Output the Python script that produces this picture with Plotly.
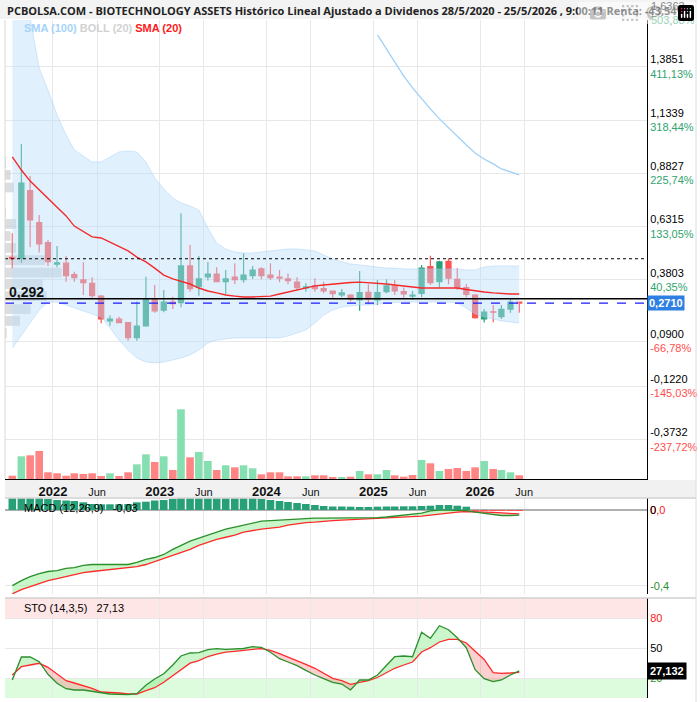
import numpy as np
import pandas as pd
import plotly.graph_objects as go

# ---------------- data (monthly candles, Aug 2021 - May 2026) ----------------
month_starts = pd.date_range("2021-08-01", periods=58, freq="MS")
dates = month_starts + pd.Timedelta(days=14)

open_ = [0.486, 0.482, 0.801, 0.650, 0.556, 0.455, 0.459, 0.405, 0.380, 0.364,
         0.304, 0.187, 0.195, 0.179, 0.108, 0.164, 0.292, 0.238, 0.276, 0.273,
         0.446, 0.348, 0.395, 0.408, 0.372, 0.394, 0.381, 0.400, 0.432, 0.403,
         0.394, 0.385, 0.370, 0.342, 0.352, 0.339, 0.328, 0.309, 0.309, 0.286,
         0.322, 0.286, 0.325, 0.352, 0.325, 0.304, 0.317, 0.443, 0.372, 0.468,
         0.383, 0.344, 0.309, 0.197, 0.230, 0.207, 0.243, 0.276]
high_ = [0.600, 1.021, 0.870, 0.686, 0.568, 0.540, 0.493, 0.419, 0.463, 0.393,
         0.309, 0.212, 0.207, 0.181, 0.278, 0.395, 0.356, 0.333, 0.301, 0.694,
         0.545, 0.493, 0.465, 0.440, 0.427, 0.459, 0.506, 0.446, 0.440, 0.459,
         0.427, 0.411, 0.393, 0.364, 0.388, 0.372, 0.329, 0.337, 0.312, 0.422,
         0.360, 0.380, 0.383, 0.380, 0.344, 0.328, 0.451, 0.494, 0.471, 0.482,
         0.435, 0.361, 0.314, 0.243, 0.262, 0.262, 0.289, 0.278]
low_ = [0.435, 0.461, 0.534, 0.509, 0.446, 0.440, 0.372, 0.372, 0.309, 0.294,
        0.176, 0.164, 0.176, 0.094, 0.094, 0.160, 0.226, 0.228, 0.243, 0.251,
        0.325, 0.306, 0.377, 0.369, 0.314, 0.361, 0.367, 0.385, 0.383, 0.380,
        0.369, 0.360, 0.331, 0.325, 0.325, 0.317, 0.290, 0.298, 0.278, 0.235,
        0.265, 0.262, 0.317, 0.309, 0.294, 0.286, 0.298, 0.356, 0.344, 0.360,
        0.333, 0.298, 0.197, 0.179, 0.181, 0.196, 0.226, 0.226]
close_ = [0.480, 0.836, 0.663, 0.550, 0.466, 0.461, 0.400, 0.391, 0.367, 0.306,
          0.196, 0.196, 0.179, 0.108, 0.163, 0.292, 0.234, 0.276, 0.268, 0.446,
          0.339, 0.385, 0.408, 0.372, 0.385, 0.381, 0.403, 0.427, 0.400, 0.391,
          0.389, 0.377, 0.344, 0.347, 0.339, 0.329, 0.315, 0.319, 0.290, 0.320,
          0.289, 0.320, 0.352, 0.328, 0.314, 0.309, 0.436, 0.367, 0.465, 0.388,
          0.345, 0.312, 0.202, 0.229, 0.228, 0.242, 0.276, 0.271]
volume = [33, 227, 237, 280, 67, 57, 33, 57, 50, 57,
          30, 57, 30, 67, 147, 247, 170, 227, 90, 697,
          217, 270, 180, 90, 137, 117, 137, 107, 47, 67,
          67, 27, 27, 27, 37, 37, 17, 17, 23, 80,
          47, 47, 90, 37, 23, 40, 190, 157, 80, 100,
          110, 80, 117, 180, 100, 90, 67, 37]
sma20 = [0.960, 0.898, 0.846, 0.804, 0.766, 0.724, 0.682, 0.634, 0.606, 0.583,
         0.578, 0.559, 0.540, 0.517, 0.488, 0.465, 0.436, 0.403, 0.385, 0.375,
         0.361, 0.342, 0.328, 0.319, 0.309, 0.304, 0.300, 0.300, 0.302, 0.304,
         0.314, 0.323, 0.335, 0.345, 0.352, 0.356, 0.361, 0.366, 0.368, 0.370,
         0.368, 0.366, 0.361, 0.356, 0.352, 0.347, 0.342, 0.342, 0.342, 0.345,
         0.342, 0.335, 0.328, 0.323, 0.319, 0.316, 0.314, 0.314]
boll_up = [1.950, 1.850, 1.615, 1.379, 1.275, 1.158, 1.063, 0.993, 0.964, 0.936,
           0.936, 0.960, 0.983, 0.988, 0.983, 0.936, 0.861, 0.809, 0.766, 0.743,
           0.729, 0.710, 0.625, 0.554, 0.526, 0.512, 0.507, 0.507, 0.512, 0.517,
           0.521, 0.526, 0.526, 0.521, 0.517, 0.498, 0.479, 0.465, 0.455, 0.451,
           0.446, 0.441, 0.436, 0.436, 0.432, 0.432, 0.432, 0.432, 0.432, 0.432,
           0.432, 0.427, 0.427, 0.441, 0.446, 0.446, 0.446, 0.446]
boll_dn = [0.059, 0.121, 0.182, 0.238, 0.276, 0.276, 0.262, 0.248, 0.234, 0.220,
           0.205, 0.154, 0.097, 0.050, 0.012, -0.007, -0.011, -0.007, 0.003, 0.012,
           0.026, 0.050, 0.083, 0.097, 0.102, 0.107, 0.107, 0.107, 0.107, 0.107,
           0.107, 0.116, 0.130, 0.144, 0.177, 0.215, 0.238, 0.253, 0.257, 0.262,
           0.262, 0.267, 0.271, 0.274, 0.276, 0.276, 0.276, 0.276, 0.276, 0.276,
           0.271, 0.248, 0.220, 0.205, 0.196, 0.187, 0.182, 0.177]
sma100 = [None] * 41 + [1.535, 1.469, 1.403, 1.341, 1.285, 1.233, 1.186, 1.139,
                        1.096, 1.054, 1.016, 0.978, 0.950, 0.927, 0.903, 0.889, 0.875]
macd = [-0.400, -0.373, -0.352, -0.336, -0.325, -0.320, -0.309, -0.304, -0.293, -0.288,
        -0.288, -0.288, -0.288, -0.288, -0.277, -0.261, -0.251, -0.235, -0.208, -0.187,
        -0.165, -0.149, -0.133, -0.117, -0.101, -0.091, -0.080, -0.069, -0.059, -0.056,
        -0.053, -0.048, -0.048, -0.045, -0.043, -0.043, -0.043, -0.043, -0.043, -0.043,
        -0.043, -0.040, -0.037, -0.032, -0.027, -0.021, -0.016, -0.005, 0.000, 0.000,
        0.000, -0.003, -0.011, -0.016, -0.021, -0.029, -0.029, -0.027]
macd_sig = [-0.443, -0.421, -0.405, -0.389, -0.373, -0.363, -0.352, -0.341, -0.331, -0.325,
            -0.320, -0.315, -0.309, -0.304, -0.299, -0.288, -0.272, -0.256, -0.240, -0.224,
            -0.208, -0.187, -0.171, -0.155, -0.144, -0.133, -0.117, -0.107, -0.101, -0.096,
            -0.091, -0.080, -0.072, -0.067, -0.064, -0.059, -0.056, -0.053, -0.051, -0.048,
            -0.048, -0.045, -0.043, -0.040, -0.037, -0.035, -0.032, -0.027, -0.021, -0.016,
            -0.011, -0.008, -0.008, -0.011, -0.013, -0.016, -0.019, -0.021]
macd_hist = [0.0117, 0.0117, 0.0117, 0.0117, 0.0110, 0.0100, 0.0095, 0.0090, 0.0077, 0.0060,
             0.0057, 0.0057, 0.0057, 0.0060, 0.0077, 0.0083, 0.0095, 0.0100, 0.0110, 0.0117,
             0.0117, 0.0117, 0.0117, 0.0117, 0.0117, 0.0117, 0.0117, 0.0117, 0.0110, 0.0100,
             0.0090, 0.0080, 0.0070, 0.0060, 0.0050, 0.0040, 0.0035, 0.0035, 0.0033, 0.0030,
             0.0030, 0.0033, 0.0035, 0.0035, 0.0037, 0.0037, 0.0040, 0.0043, 0.0050, 0.0050,
             0.0043, 0.0033, -0.0010, -0.0010, -0.0010, -0.0010, -0.0010, -0.0010]
sto_k = [18.0, 41.0, 41.0, 36.3, 23.7, 14.7, 9.3, 8.0, 8.0, 6.7,
         4.7, 4.0, 3.7, 3.3, 4.3, 12.7, 19.0, 24.3, 33.0, 42.0,
         45.0, 45.3, 48.3, 49.3, 48.7, 49.0, 49.5, 51.3, 50.7, 45.7,
         39.3, 36.0, 32.3, 27.7, 23.0, 19.3, 15.7, 14.0, 8.0, 18.0,
         18.0, 23.0, 33.0, 41.3, 42.0, 41.3, 65.7, 59.7, 72.3, 68.3,
         60.3, 50.3, 28.3, 19.3, 16.3, 18.0, 23.0, 27.132]
sto_d = [23.0, 31.3, 33.0, 34.7, 30.7, 24.0, 17.3, 15.0, 12.3, 9.7,
         6.0, 5.8, 5.0, 4.2, 4.0, 7.3, 10.3, 15.7, 22.3, 27.7,
         34.8, 37.3, 41.5, 43.8, 45.8, 46.7, 48.0, 48.7, 49.3, 47.7,
         44.3, 41.0, 37.3, 33.7, 29.7, 24.7, 19.7, 17.3, 13.7, 15.7,
         17.3, 20.5, 25.5, 29.7, 33.0, 36.0, 46.0, 50.3, 56.0, 58.7,
         58.7, 55.0, 46.8, 38.5, 25.3, 24.7, 25.0, 25.7]
# volume-by-price profile
vp_price = [0.934, 0.875, 0.816, 0.757, 0.696, 0.644, 0.587, 0.531, 0.474, 0.415,
            0.359, 0.304, 0.243, 0.187, 0.130]
vp_vol = [10, 57, 90, 0, 10, 110, 57, 110, 400, 567, 377, 417, 257, 150, 17]

start_price = 0.48
ref_level = 0.292
last_price = close_[-1]

price_tick_vals = [1.6363, 1.3851, 1.1339, 0.8827, 0.6315, 0.3803, 0.0900, -0.1220, -0.3732]
price_tick_txt = ["1,6363", "1,3851", "1,1339", "0,8827", "0,6315", "0,3803", "0,0900", "-0,1220", "-0,3732"]
price_tick_pct = ["503,83%", "411,13%", "318,44%", "225,74%", "133,05%", "40,35%", "-66,78%", "-145,03%", "-237,72%"]
date_tick_vals = ["2022-01-01", "2022-06-01", "2023-01-01", "2023-06-01", "2024-01-01",
                  "2024-06-01", "2025-01-01", "2025-06-01", "2026-01-01", "2026-06-01"]
date_tick_txt = ["2022", "Jun", "2023", "Jun", "2024", "Jun", "2025", "Jun", "2026", "Jun"]

title_text = ("PCBOLSA.COM - BIOTECHNOLOGY ASSETS Histórico Lineal Ajustado a Dividenos "
              "28/5/2020 - 25/5/2026 , 9:00:11 Renta: -43,54%")

# ---------------- geometry ----------------
W, H = 700, 702
ML, MR, MT, MB = 5, 53, 20, 2
PW, PH = W - ML - MR, H - MT - MB


def fx(xpx):
    return (xpx - ML) / PW


def fy(ypx):
    return (H - MB - ypx) / PH


X_RANGE = [pd.Timestamp("2021-07-21"), pd.Timestamp("2027-07-26")]
span_ms = (X_RANGE[1] - X_RANGE[0]).total_seconds() * 1000
DAY_MS = 86400000

GREEN = "#27a077"
RED = "#ff5353"
FONT = "Liberation Sans, Arial, sans-serif"

fig = go.Figure()

# Bollinger band
fig.add_trace(go.Scatter(x=dates, y=boll_up, mode="lines", line=dict(color="rgba(160,205,245,0.55)", width=0.8),
                         hoverinfo="skip", showlegend=False))
fig.add_trace(go.Scatter(x=dates, y=boll_dn, mode="lines", line=dict(color="rgba(160,205,245,0.55)", width=0.8),
                         fill="tonexty", fillcolor="rgba(187,222,251,0.45)", hoverinfo="skip", showlegend=False))

# volume profile (horizontal bars anchored at left edge)
vp_len = np.array(vp_vol, float) / max(vp_vol) * (56.7 / PW) * span_ms
fig.add_trace(go.Bar(y=vp_price, x=vp_len, base=[X_RANGE[0]] * len(vp_price), orientation="h",
                     width=0.046, marker=dict(color="rgba(195,198,202,0.6)", line=dict(width=0)),
                     hoverinfo="skip", showlegend=False))

# SMA lines
fig.add_trace(go.Scatter(x=dates, y=sma100, mode="lines", line=dict(color="#9fd0f7", width=1.3),
                         hoverinfo="skip", showlegend=False))
fig.add_trace(go.Scatter(x=dates, y=sma20, mode="lines", line=dict(color="#f42a2a", width=1.4),
                         hoverinfo="skip", showlegend=False))

# candles
fig.add_trace(go.Candlestick(x=dates, open=open_, high=high_, low=low_, close=close_,
                             increasing=dict(line=dict(color=GREEN, width=1.2), fillcolor=GREEN),
                             decreasing=dict(line=dict(color=RED, width=1.2), fillcolor=RED),
                             whiskerwidth=0, hoverinfo="skip", showlegend=False))

# volume
vol_colors = []
for i, c in enumerate(close_):
    prev = close_[i - 1] if i > 0 else open_[0]
    vol_colors.append("#86dfb0" if c >= prev else "#ff8585")
fig.add_trace(go.Bar(x=dates, y=volume, width=26 * DAY_MS, marker=dict(color=vol_colors, line=dict(width=0)),
                     xaxis="x", yaxis="y2", hoverinfo="skip", showlegend=False))


def with_crossings(x, a, b):
    t = np.asarray(x.asi8, dtype=float)
    a = np.asarray(a, float)
    b = np.asarray(b, float)
    tt, aa, bb = [t[0]], [a[0]], [b[0]]
    for i in range(1, len(t)):
        d0, d1 = a[i - 1] - b[i - 1], a[i] - b[i]
        if d0 * d1 < 0:
            f = d0 / (d0 - d1)
            tc = t[i - 1] + f * (t[i] - t[i - 1])
            vc = a[i - 1] + f * (a[i] - a[i - 1])
            tt.append(tc); aa.append(vc); bb.append(vc)
        tt.append(t[i]); aa.append(a[i]); bb.append(b[i])
    return pd.to_datetime(np.array(tt).astype("int64")), np.array(aa), np.array(bb)


def add_cross_fill(x, a, b, up_col, dn_col, xa, ya):
    xc, ac, bc = with_crossings(x, a, b)
    top = np.maximum(ac, bc)
    common = dict(mode="lines", line=dict(width=0), xaxis=xa, yaxis=ya, hoverinfo="skip", showlegend=False)
    fig.add_trace(go.Scatter(x=xc, y=bc, **common))
    fig.add_trace(go.Scatter(x=xc, y=top, fill="tonexty", fillcolor=up_col, **common))
    fig.add_trace(go.Scatter(x=xc, y=ac, **common))
    fig.add_trace(go.Scatter(x=xc, y=top, fill="tonexty", fillcolor=dn_col, **common))


# MACD panel
add_cross_fill(dates, macd, macd_sig, "rgba(150,240,150,0.5)", "rgba(255,140,140,0.4)", "x3", "y3")
fig.add_trace(go.Scatter(x=dates, y=macd_sig, mode="lines", line=dict(color="#ff2a2a", width=1.3),
                         xaxis="x3", yaxis="y3", hoverinfo="skip", showlegend=False))
fig.add_trace(go.Scatter(x=dates, y=macd, mode="lines", line=dict(color="#2b8f2b", width=1.3),
                         xaxis="x3", yaxis="y3", hoverinfo="skip", showlegend=False))
fig.add_trace(go.Bar(x=dates, y=macd_hist, width=26 * DAY_MS,
                     marker=dict(color=["#27a077" if v >= 0 else "#ff5353" for v in macd_hist], line=dict(width=0)),
                     xaxis="x3", yaxis="y4", hoverinfo="skip", showlegend=False))

# STO panel
add_cross_fill(dates, sto_k, sto_d, "rgba(140,235,140,0.45)", "rgba(240,120,120,0.35)", "x4", "y5")
fig.add_trace(go.Scatter(x=dates, y=sto_d, mode="lines", line=dict(color="#ff2a2a", width=1.3),
                         xaxis="x4", yaxis="y5", hoverinfo="skip", showlegend=False))
fig.add_trace(go.Scatter(x=dates, y=sto_k, mode="lines", line=dict(color="#2b8f2b", width=1.3),
                         xaxis="x4", yaxis="y5", hoverinfo="skip", showlegend=False))

# ---------------- axes ----------------
grid = "#e8e8e8"
main_dom = [fy(479), fy(20)]
macd_dom = [fy(594), fy(498)]
sto_dom = [fy(698), fy(598)]

date_ticktext = ["<b>%s</b>" % t if t != "Jun" else "<span style='font-size:11px'>%s</span>" % t
                 for t in date_tick_txt]

xcommon = dict(type="date", range=X_RANGE, tickvals=date_tick_vals, showgrid=True, gridcolor=grid,
               gridwidth=1, zeroline=False, fixedrange=True)

price_ticktext = []
for t, p in zip(price_tick_txt, price_tick_pct):
    col = "#ff4d4d" if p.startswith("-") else "#2fa46c"
    price_ticktext.append("%s<br><span style='color:%s'>%s</span>" % (t, col, p))

fig.update_layout(
    width=W, height=H, margin=dict(l=ML, r=MR, t=MT, b=MB),
    paper_bgcolor="white", plot_bgcolor="white",
    font=dict(family=FONT, size=11, color="black"),
    showlegend=False, barmode="overlay", boxgap=0.12,
    xaxis=dict(**xcommon, domain=[0, 1], anchor="y", ticktext=date_ticktext, tickfont=dict(size=13, color="#111"),
               showline=True, linecolor="black", linewidth=1, ticks="", rangeslider=dict(visible=False)),
    yaxis=dict(domain=main_dom, range=[-0.5581, 1.6052], side="right", anchor="x", tickvals=price_tick_vals,
               ticktext=price_ticktext, showgrid=True, gridcolor=grid, zeroline=False, showline=True,
               linecolor="black", linewidth=1, ticks="", tickfont=dict(size=11), fixedrange=True),
    yaxis2=dict(overlaying="y", range=[0, 4590], visible=False, fixedrange=True),
    xaxis3=dict(**xcommon, domain=[0, 1], anchor="y3", showticklabels=False, ticktext=date_tick_txt),
    yaxis3=dict(domain=macd_dom, range=[-0.4439, 0.0634], side="right", anchor="x3", tickvals=[0, -0.4],
                ticktext=["<span style='color:#ff2020'>0,0</span>", "<span style='color:#2b8f2b'>-0,4</span>"],
                showgrid=True, gridcolor=grid, zeroline=True, zerolinecolor="#b0b0b0", zerolinewidth=1.5,
                showline=True, linecolor="black", linewidth=1, ticks="", tickfont=dict(size=11), fixedrange=True),
    yaxis4=dict(overlaying="y3", range=[-0.084, 0.012], visible=False, fixedrange=True),
    xaxis4=dict(**xcommon, domain=[0, 1], anchor="y5", showticklabels=False, ticktext=date_tick_txt),
    yaxis5=dict(domain=sto_dom, range=[0, 100], side="right", anchor="x4", tickvals=[20, 50, 80],
                ticktext=["<span style='color:#2b9a2b'>20</span>", "50", "<span style='color:#ff2020'>80</span>"],
                showgrid=True, gridcolor=grid, zeroline=False, showline=True, linecolor="black", linewidth=1,
                ticks="", tickfont=dict(size=11), fixedrange=True),
)

# ---------------- shapes ----------------
shapes = [
    dict(type="rect", xref="paper", yref="paper", x0=fx(0), x1=fx(696), y0=fy(19), y1=fy(0),
         fillcolor="#f3f3f3", line=dict(width=0), layer="above"),
    dict(type="rect", xref="paper", yref="paper", x0=fx(5), x1=fx(696), y0=fy(497), y1=fy(480),
         fillcolor="#f1f1f1", line=dict(width=0), layer="below"),
    dict(type="line", xref="paper", yref="y", x0=0, x1=1, y0=start_price, y1=start_price,
         line=dict(color="black", width=1, dash="dot"), layer="above"),
    dict(type="line", xref="paper", yref="y", x0=0, x1=1, y0=ref_level, y1=ref_level,
         line=dict(color="black", width=1.5), layer="above"),
    dict(type="line", xref="paper", yref="y", x0=0, x1=1, y0=last_price, y1=last_price,
         line=dict(color="#1a1aff", width=1.3, dash="dash"), layer="above"),
    dict(type="line", xref="paper", yref="paper", x0=0, x1=0, y0=fy(479), y1=fy(20),
         line=dict(color="#d8d8d8", width=1)),
    dict(type="line", xref="paper", yref="paper", x0=fx(5), x1=fx(696), y0=fy(498), y1=fy(498),
         line=dict(color="#d0d0d0", width=1.5)),
    dict(type="line", xref="paper", yref="paper", x0=fx(5), x1=fx(696), y0=fy(598), y1=fy(598),
         line=dict(color="#d0d0d0", width=1.5)),
    dict(type="line", xref="paper", yref="paper", x0=fx(696), x1=fx(696), y0=fy(702), y1=fy(0),
         line=dict(color="#dcdcdc", width=1)),
    dict(type="rect", xref="paper", yref="y5", x0=0, x1=1, y0=80, y1=100,
         fillcolor="#ffe6e6", line=dict(width=0), layer="below"),
    dict(type="rect", xref="paper", yref="y5", x0=0, x1=1, y0=0, y1=20,
         fillcolor="#ddfcdd", line=dict(width=0), layer="below"),
]
fig.update_layout(shapes=shapes)

# ---------------- annotations ----------------
ann = [
    dict(text="<b>%s</b>" % title_text, xref="paper", yref="paper", x=fx(5), y=fy(10),
         xanchor="left", yanchor="middle", showarrow=False,
         font=dict(family="Open Sans, sans-serif", size=11, color="#222")),
    dict(text="<b><span style='color:#a6d3f8'>SMA (100)</span> <span style='color:#d2d2d2'>BOLL (20)</span> "
              "<span style='color:#ff1a1a'>SMA (20)</span></b>",
         xref="paper", yref="paper", x=fx(22), y=fy(28), xanchor="left", yanchor="middle", showarrow=False,
         font=dict(size=11)),
    dict(text="%s<br><span style='color:#2fa46c'>%s</span>" % (price_tick_txt[0], price_tick_pct[0]),
         xref="paper", yref="paper", x=1, xshift=2, y=fy(13.4), xanchor="left", yanchor="middle",
         showarrow=False, align="left", font=dict(size=11)),
    dict(text="<b>%s</b>" % ("%.3f" % ref_level).replace(".", ","), xref="paper", yref="y", x=fx(7), y=ref_level,
         yshift=7, xanchor="left", yanchor="middle", showarrow=False, font=dict(size=14, color="#111")),
    dict(text="<b>%s</b>" % ("%.4f" % last_price).replace(".", ","), xref="paper", yref="y", x=1, y=last_price,
         xanchor="left", yanchor="middle", showarrow=False, bgcolor="#2e7fe3", borderpad=1,
         font=dict(size=11, color="white")),
    dict(text="MACD (12,26,9)   %s" % ("%.2f" % macd[-1]).replace(".", ","), xref="paper", yref="paper",
         x=fx(22), y=fy(508), xanchor="left", yanchor="middle", showarrow=False, font=dict(size=11)),
    dict(text="0", xref="paper", yref="paper", x=1, xshift=1, y=fy(510), xanchor="left", yanchor="middle",
         showarrow=False, font=dict(size=11)),
    dict(text="STO (14,3,5)   %s" % ("%.2f" % sto_k[-1]).replace(".", ","), xref="paper", yref="paper",
         x=fx(22), y=fy(608), xanchor="left", yanchor="middle", showarrow=False, font=dict(size=11)),
    dict(text="<b>%s</b>" % ("%.3f" % sto_k[-1]).replace(".", ","), xref="paper", yref="y5", x=1,
         y=sto_k[-1], xanchor="left", yanchor="middle", showarrow=False, bgcolor="black", borderpad=2,
         font=dict(size=11, color="white")),
]
fig.update_layout(annotations=ann)

fig.write_html("out.html", post_script="document.body.style.margin='0px';")
